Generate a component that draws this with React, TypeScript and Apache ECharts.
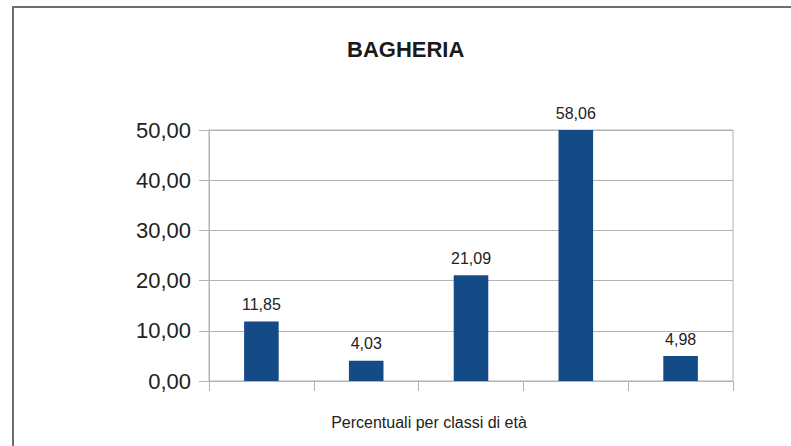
import React, { useEffect, useRef } from "react";
import * as echarts from "echarts";

const categories = ["Classe 1", "Classe 2", "Classe 3", "Classe 4", "Classe 5"];
const values = [11.85, 4.03, 21.09, 58.06, 4.98];
const titleText = "BAGHERIA";
const xAxisName = "Percentuali per classi di età";

const fmt = (v: number) => v.toFixed(2).replace(".", ",");

export default function App() {
  const ref = useRef<HTMLDivElement>(null);
  useEffect(() => {
    document.body.style.margin = "0";
    const chart = echarts.init(ref.current!, null, { renderer: "svg" });
    chart.setOption({
      animation: false,
      backgroundColor: "#ffffff",
      textStyle: { fontFamily: "Liberation Sans, Arial, sans-serif" },
      title: {
        text: titleText,
        left: 342,
        top: 33,
        textStyle: { fontSize: 22, fontWeight: "bold", color: "#1a1a1a", fontFamily: "Liberation Sans, Arial, sans-serif" },
      },
      graphic: [
        {
          type: "rect",
          shape: { x: 13, y: 7, width: 900, height: 600 },
          style: { fill: "none", stroke: "#6e6e6e", lineWidth: 2 },
          silent: true,
        },
      ],
      grid: {
        left: 209,
        right: 58,
        top: 130,
        bottom: 65,
        show: true,
        borderColor: "#b3b3b3",
        borderWidth: 1,
        backgroundColor: "transparent",
      },
      xAxis: {
        type: "category",
        data: categories,
        boundaryGap: true,
        name: xAxisName,
        nameLocation: "middle",
        nameGap: 33,
        nameTextStyle: { fontSize: 16, color: "#222", padding: [0, 84, 0, 0] },
        axisLine: { show: true, lineStyle: { color: "#b3b3b3" } },
        axisTick: { show: true, length: 10, lineStyle: { color: "#b3b3b3" } },
        axisLabel: { show: false },
        splitLine: { show: false },
      },
      yAxis: {
        type: "value",
        min: 0,
        max: 50,
        interval: 10,
        axisLine: { show: true, lineStyle: { color: "#b3b3b3" } },
        axisTick: { show: true, length: 10, lineStyle: { color: "#b3b3b3" } },
        axisLabel: { fontSize: 22, color: "#222", margin: 18, formatter: (v: number) => fmt(v) },
        splitLine: { show: true, lineStyle: { color: "#b3b3b3" } },
      },
      series: [
        {
          type: "bar",
          data: values,
          barWidth: "33%",
          clip: true,
          itemStyle: { color: "#144a86" },
          label: {
            show: true,
            position: "top",
            distance: 9,
            fontSize: 16,
            color: "#222",
            formatter: (p: any) => fmt(p.value),
          },
        },
      ],
    });
    return () => chart.dispose();
  }, []);
  return <div ref={ref} style={{ width: 791, height: 446 }} />;
}
